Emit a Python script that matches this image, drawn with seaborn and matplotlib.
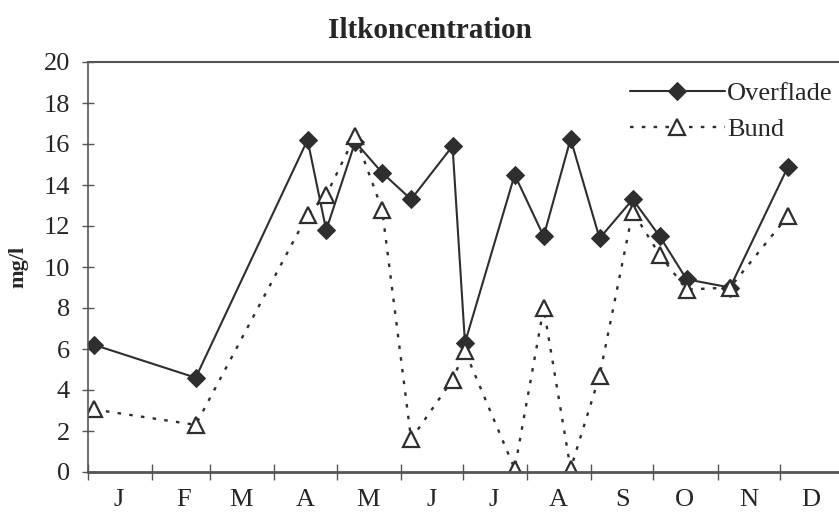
import numpy as np
import pandas as pd
import matplotlib
matplotlib.use("Agg")
import matplotlib.pyplot as plt
import matplotlib.dates as mdates
import matplotlib.ticker as mticker
import seaborn as sns

dates = ["1995-01-04", "1995-02-22", "1995-04-17", "1995-04-26", "1995-05-10",
         "1995-05-23", "1995-06-06", "1995-06-26", "1995-07-02", "1995-07-26",
         "1995-08-09", "1995-08-22", "1995-09-05", "1995-09-21", "1995-10-04",
         "1995-10-17", "1995-11-07", "1995-12-05"]
overflade = [6.2, 4.6, 16.2, 11.8, 16.1, 14.6, 13.3, 15.9, 6.3, 14.5,
             11.5, 16.25, 11.4, 13.3, 11.5, 9.4, 9.0, 14.9]
bund = [3.05, 2.3, 12.55, 13.5, 16.4, 12.8, 1.6, 4.5, 5.9, 0.15,
        8.0, 0.15, 4.7, 12.7, 10.6, 8.9, 9.0, 12.5]
month_labels = ["J", "F", "M", "A", "M", "J", "J", "A", "S", "O", "N", "D"]
y_ticks = [0, 2, 4, 6, 8, 10, 12, 14, 16, 18, 20]

sns.set_style("white")
plt.rcParams['font.family'] = ['Liberation Serif', 'DejaVu Serif']

df = pd.DataFrame({"dato": pd.to_datetime(dates), "Overflade": overflade, "Bund": bund})

W, H = 839, 512
x0, x1, y0, y1 = 88, 844, 472, 62
fig = plt.figure(figsize=(W/100, H/100), dpi=100)
ax = fig.add_axes([x0/W, 1 - y0/H, (x1 - x0)/W, (y0 - y1)/H])

dark = "#2e2e2e"
sns.lineplot(data=df, x="dato", y="Overflade", ax=ax, color=dark, lw=1.5,
             marker="D", markersize=9, markerfacecolor=dark, markeredgecolor=dark,
             label="Overflade")
sns.lineplot(data=df, x="dato", y="Bund", ax=ax, color=dark, lw=1.7,
             marker="^", markersize=12, markerfacecolor="white", markeredgecolor=dark,
             markeredgewidth=1.6, label="Bund")
ax.lines[1].set_dashes((1.5, 3.5))

month_starts = [mdates.date2num(pd.Timestamp(1995, m, 1)) for m in range(1, 13)]
month_mids = [mdates.date2num(pd.Timestamp(1995, m, 16)) for m in range(1, 13)]
ax.xaxis.set_major_locator(mticker.FixedLocator(month_starts))
ax.xaxis.set_major_formatter(mticker.NullFormatter())
ax.xaxis.set_minor_locator(mticker.FixedLocator(month_mids))
ax.xaxis.set_minor_formatter(mticker.FixedFormatter(month_labels))
ax.tick_params(axis="x", which="minor", bottom=True, labelsize=19, length=0, pad=12)
ax.tick_params(axis="x", which="major", bottom=True, direction="inout", length=12,
               width=1, color="#555")

ax.set_xlim(mdates.date2num(pd.Timestamp("1995-01-01")), mdates.date2num(pd.Timestamp("1996-01-01")))
ax.set_ylim(0, 20)
ax.set_yticks(y_ticks)
ax.set_yticklabels([str(v) for v in y_ticks])
ax.tick_params(axis="y", left=True, direction="inout", length=8, width=1, color="#555",
               pad=9, labelsize=19)

ax.set_xlabel("")
ax.set_ylabel("mg/l", fontsize=16, fontweight="bold")
ax.yaxis.set_label_coords(-(x0 - 28) / (x1 - x0), 0.5)

for side in ["left", "top", "bottom", "right"]:
    ax.spines[side].set_color("#555")
ax.spines["left"].set_linewidth(1.2)
ax.spines["top"].set_linewidth(1.5)
ax.spines["bottom"].set_linewidth(2.0)
ax.spines["right"].set_visible(False)

leg = ax.legend(loc="upper right", bbox_to_anchor=((833 - x0)/(x1 - x0), (y0 - 82)/(y0 - y1)),
                frameon=False, fontsize=19, handlelength=3.6, handletextpad=0.1,
                labelspacing=0.45, borderpad=0, borderaxespad=0)

fig.text(430/W, 1 - 30/H, "Iltkoncentration", ha="center", va="center",
         fontsize=21, fontweight="bold")

fig.savefig("out.png", dpi=100)
